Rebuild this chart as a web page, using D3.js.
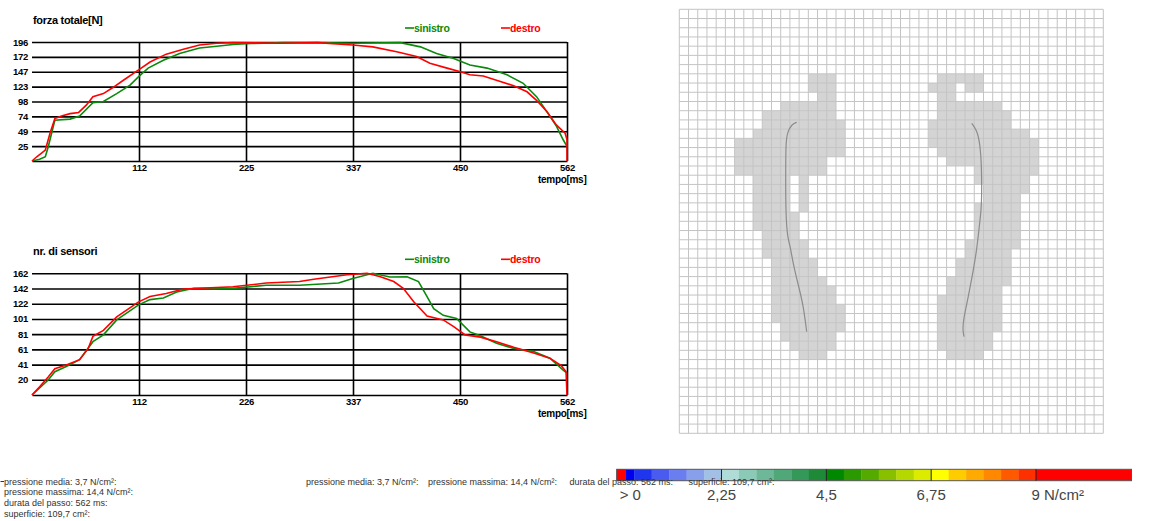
<!DOCTYPE html>
<html>
<head>
<meta charset="utf-8">
<script src="https://cdn.jsdelivr.net/npm/d3@7"></script>
<style>
body { margin: 0; background: #fff; }
svg { display: block; font-family: "Liberation Sans", Arial, sans-serif; }
.chart text { font-weight: bold; letter-spacing: -0.3px; fill: #000; }
</style>
</head>
<body>
<svg id="chart" width="1158" height="521"></svg>
<script>
// forza totale [N], pairs [tempo ms, valore]
var forceLeft = [[0,0],[8,3],[14,7],[17,23],[24,67],[40,69],[50,74],[64,96],[75,98],[89,111],[103,125],[112,139],[122,153],[138,166],[155,177],[176,186],[194,189],[211,192],[230,193.5],[264,195],[300,195],[337,194],[387,195],[408,188],[425,177],[443,169],[460,158],[478,153],[499,142],[516,128],[530,106],[541,81],[551,57],[558,35],[562,24]];
var forceRight = [[0,0],[5,7],[10,13],[14,18],[19,46],[24,70],[31,74],[40,78],[49,80],[57,92],[64,106],[75,111],[85,121],[96,133],[112,150],[124,163],[141,176],[159,184],[176,191],[194,194],[211,195],[260,194],[300,195],[337,191],[358,188],[383,180],[404,172],[418,161],[436,153],[450,147],[460,142],[474,140],[492,131],[506,124],[520,114],[530,100],[541,81],[551,59],[560,46],[562,35],[562,0]];

// nr. di sensori
var sensorLeft = [[0,0],[17,20],[24,31],[36,38],[50,47],[64,71],[75,80],[89,100],[112,120],[124,127],[138,129],[152,137],[170,142],[211,142],[246,146],[281,146],[322,149],[337,155],[358,162],[376,157],[394,157.5],[406,151],[415,131],[422,115],[432,106],[446,102],[460,84],[471,79],[488,69],[506,62],[527,58],[544,49],[558,33],[562,29]];
var sensorRight = [[0,0],[8,11],[17,24],[24,35],[36,40],[50,47],[59,62],[64,78],[75,86],[89,104],[112,124],[124,131],[141,135],[159,141],[176,142],[211,144],[246,149],[281,151],[296,154],[331,160],[352,162],[366,157.5],[380,151],[390,142],[401,124],[415,105],[432,100],[443,91],[455,80],[471,77],[488,71],[506,63.5],[527,56],[544,49],[556,39],[561,31],[562,0]];

var timeMax = 562;
var timeTicks = [112.4, 224.8, 337.2, 449.6, 562];
var forceTimeLabels = ["112", "225", "337", "450", "562"];
var sensorTimeLabels = ["112", "226", "337", "450", "562"];
var forceMax = 196;
var forceTicks = [24.5, 49, 73.5, 98, 122.5, 147, 171.5, 196];
var forceTickLabels = ["25", "49", "74", "98", "123", "147", "172", "196"];
var sensorMax = 162;
var sensorTicks = [20.25, 40.5, 60.75, 81, 101.25, 121.5, 141.75, 162];
var sensorTickLabels = ["20", "41", "61", "81", "101", "122", "142", "162"];
var seriesNames = ["sinistro", "destro"];

// impronta: [riga, colonna iniziale, colonna finale] su griglia 46x46
var gridSize = 46;
var leftFoot = [[7,14,16],[8,14,16],[9,15,16],[10,11,16],[11,9,16],[12,9,17],[13,8,17],[14,6,17],[15,6,17],[16,6,15],[17,6,15],
  [18,8,11],[18,13,13],[19,8,11],[19,13,13],[20,8,11],[20,13,13],[21,8,11],[21,13,13],
  [22,8,12],[23,8,12],[24,9,12],[25,9,13],[26,9,13],[27,10,14],[28,10,14],[29,10,15],[30,10,16],[31,10,16],
  [32,10,17],[33,10,17],[34,11,17],[35,11,16],[36,12,16],[37,13,15]];
var rightFoot = [[7,28,32],[8,27,29],[8,31,32],[9,28,29],[10,28,34],[11,28,35],[12,27,35],[13,27,37],[14,27,38],[15,28,38],
  [16,29,38],[17,32,38],[18,32,37],[19,33,37],[20,33,36],[21,32,36],[22,32,36],[23,32,36],[24,32,36],[25,31,36],
  [26,31,35],[27,30,35],[28,30,35],[29,29,35],[30,29,34],[31,28,34],[32,28,34],[33,28,34],[34,28,34],[35,28,33],[36,28,33],[37,29,32]];
// linea del baricentro [colonna, riga]
var leftPath = [[12.74,12.26],[12.2,12.48],[11.75,13.28],[11.57,14.36],[11.54,16.89],[11.54,22.32],[11.76,24.85],[12.01,25.57],[12.37,27.74],[12.91,29.91],[13.45,32.08],[13.82,34.98]];
var rightPath = [[31.72,12.37],[32.27,13.09],[32.62,14.54],[32.81,17.08],[32.81,21.42],[32.62,22.86],[32.27,26.12],[31.9,28.29],[31.36,31.18],[30.81,33.71],[30.75,34.79],[30.89,35.52]];

// scala colori N/cm2
var scaleStep = 0.375;
var scaleEnd = 11.05;
var scaleColors = ["#0000f0","#2035ee","#4a5cf0","#6a7ef0","#88a0ec","#a2c0e6",
  "#b0dcd8","#8ccab8","#6cb898","#50a878","#349858","#1e8a38",
  "#008800","#2a9a00","#55aa00","#88c000","#b4d800","#dcec00",
  "#ffff00","#ffcc00","#ffaa00","#ff8800","#ff5a00","#ff3000"];
var scaleTicks = [0, 2.25, 4.5, 6.75, 9];
var scaleLabels = ["> 0", "2,25", "4,5", "6,75", "9 N/cm\u00b2"];

var statLabels = ["pressione media: 3,7 N/cm\u00b2:", "pressione massima: 14,4 N/cm\u00b2:", "durata del passo: 562 ms:", "superficie: 109,7 cm\u00b2:"];

var svg = d3.select('#chart');
var green = "#0a8a0a", red = "#ff0000";

function lineChart(opt) {
	var x = d3.scaleLinear().domain([0, timeMax]).range([32, 567]);
	var y = d3.scaleLinear().domain([0, opt.max]).range([opt.bottom, opt.top]);
	var g = svg.append('g').attr('class', 'chart');

	g.append('g')
		.attr('transform', 'translate(32,0)')
		.call(d3.axisLeft(y).tickValues(opt.yTicks)
			.tickFormat(function(d, i) { return opt.yLabels[i]; })
			.tickSize(-535).tickSizeOuter(0).tickPadding(4))
		.call(function(a) {
			a.select('.domain').remove();
			a.selectAll('line').attr('stroke', '#000').attr('stroke-width', 1.6);
			a.selectAll('text').attr('font-size', '9.5px').attr('font-family', null);
		});

	g.append('g')
		.attr('transform', 'translate(0,' + opt.bottom + ')')
		.call(d3.axisBottom(x).tickValues(timeTicks)
			.tickFormat(function(d, i) { return opt.xLabels[i]; })
			.tickSize(-(opt.bottom - opt.top)).tickSizeOuter(0).tickPadding(3))
		.call(function(a) {
			a.select('.domain').attr('stroke', '#000').attr('stroke-width', 1.6);
			a.selectAll('line').attr('stroke', '#000').attr('stroke-width', 1.6);
			a.selectAll('text').attr('font-size', '9.5px').attr('font-family', null);
		});

	var line = d3.line()
		.x(function(d) { return x(d[0]); })
		.y(function(d) { return y(d[1]); });

	g.append('path').datum(opt.left).attr('d', line)
		.attr('fill', 'none').attr('stroke', green).attr('stroke-width', 1.6);
	g.append('path').datum(opt.right).attr('d', line)
		.attr('fill', 'none').attr('stroke', red).attr('stroke-width', 1.6);

	g.append('text').attr('x', 33).attr('y', opt.top - 18).attr('font-size', '11px').text(opt.title);
	g.append('text').attr('x', 538).attr('y', opt.bottom + 22).attr('font-size', '10px').text('tempo[ms]');

	var legX = [405, 501];
	[green, red].forEach(function(c, i) {
		g.append('line').attr('x1', legX[i]).attr('x2', legX[i] + 9)
			.attr('y1', opt.top - 14).attr('y2', opt.top - 14)
			.attr('stroke', c).attr('stroke-width', 1.6);
		g.append('text').attr('x', legX[i] + 9).attr('y', opt.top - 10)
			.attr('font-size', '10.5px').style('fill', c).text(seriesNames[i]);
	});
}

lineChart({title: 'forza totale[N]', top: 42, bottom: 161, max: forceMax,
	yTicks: forceTicks, yLabels: forceTickLabels, xLabels: forceTimeLabels,
	left: forceLeft, right: forceRight});
lineChart({title: 'nr. di sensori', top: 273.3, bottom: 395, max: sensorMax,
	yTicks: sensorTicks, yLabels: sensorTickLabels, xLabels: sensorTimeLabels,
	left: sensorLeft, right: sensorRight});

// griglia impronta
var gx = d3.scaleLinear().domain([0, gridSize]).range([679.3, 1103.3]);
var gy = d3.scaleLinear().domain([0, gridSize]).range([9.3, 433.3]);
var foot = svg.append('g');

function drawFoot(cells) {
	foot.selectAll(null).data(cells).enter().append('rect')
		.attr('x', function(d) { return gx(d[1]); })
		.attr('y', function(d) { return gy(d[0]); })
		.attr('width', function(d) { return gx(d[2] + 1) - gx(d[1]); })
		.attr('height', gy(1) - gy(0))
		.attr('fill', '#d4d4d4');
}
drawFoot(leftFoot);
drawFoot(rightFoot);

var gridLines = d3.range(gridSize + 1);
foot.selectAll(null).data(gridLines).enter().append('line')
	.attr('x1', function(d) { return gx(d); }).attr('x2', function(d) { return gx(d); })
	.attr('y1', gy(0)).attr('y2', gy(gridSize))
	.attr('stroke', '#c4c4c4').attr('stroke-width', 1);
foot.selectAll(null).data(gridLines).enter().append('line')
	.attr('y1', function(d) { return gy(d); }).attr('y2', function(d) { return gy(d); })
	.attr('x1', gx(0)).attr('x2', gx(gridSize))
	.attr('stroke', '#c4c4c4').attr('stroke-width', 1);

var cop = d3.line().curve(d3.curveBasis)
	.x(function(d) { return gx(d[0]); })
	.y(function(d) { return gy(d[1]); });
[leftPath, rightPath].forEach(function(p) {
	foot.append('path').datum(p).attr('d', cop)
		.attr('fill', 'none').attr('stroke', '#8c8c8c').attr('stroke-width', 1.2);
});

// scala colori
var sx = d3.scaleLinear().domain([0, 9]).range([616.7, 1036]);
var bar = svg.append('g');
var segs = scaleColors.map(function(c, i) { return {v0: i * scaleStep, v1: (i + 1) * scaleStep, c: c}; });
segs.push({v0: 9, v1: scaleEnd, c: '#ff0000'});
bar.selectAll(null).data(segs).enter().append('rect')
	.attr('x', function(d) { return sx(d.v0); })
	.attr('width', function(d) { return sx(d.v1) - sx(d.v0) + 0.3; })
	.attr('y', 469.3).attr('height', 11.4)
	.attr('fill', function(d) { return d.c; });
bar.append('rect').attr('x', sx(0)).attr('width', sx(0.2) - sx(0))
	.attr('y', 469.3).attr('height', 11.4).attr('fill', '#ff0000');
bar.append('rect').attr('x', sx(0)).attr('width', sx(scaleEnd) - sx(0))
	.attr('y', 469.3).attr('height', 11.4)
	.attr('fill', 'none').attr('stroke', '#555').attr('stroke-width', 1);
bar.selectAll(null).data(scaleTicks.slice(1)).enter().append('line')
	.attr('x1', function(d) { return sx(d); }).attr('x2', function(d) { return sx(d); })
	.attr('y1', 469.3).attr('y2', 480.7)
	.attr('stroke', '#222').attr('stroke-width', 1);
bar.selectAll(null).data(scaleTicks).enter().append('text')
	.attr('x', function(d, i) {
		if (i === 0) return sx(d) + 3;
		if (i === scaleTicks.length - 1) return sx(d) - 4.5;
		return sx(d);
	})
	.attr('y', 500)
	.attr('text-anchor', function(d, i) { return (i === 0 || i === scaleTicks.length - 1) ? 'start' : 'middle'; })
	.attr('font-size', '15px').attr('fill', '#444')
	.text(function(d, i) { return scaleLabels[i]; });

// statistiche
var statX = [306, 428, 569.5, 688.5];
svg.selectAll(null).data(statLabels).enter().append('text')
	.attr('x', function(d, i) { return statX[i]; }).attr('y', 484.5)
	.attr('font-size', '9px').attr('fill', '#333')
	.text(function(d) { return d; });
svg.selectAll(null).data(statLabels).enter().append('text')
	.attr('x', 4).attr('y', function(d, i) { return 484.5 + i * 10.7; })
	.attr('font-size', '9px').attr('fill', '#333')
	.text(function(d) { return d; });
svg.append('line').attr('x1', 0.5).attr('x2', 4).attr('y1', 481.5).attr('y2', 481.5)
	.attr('stroke', '#333').attr('stroke-width', 1);
</script>
</body>
</html>
